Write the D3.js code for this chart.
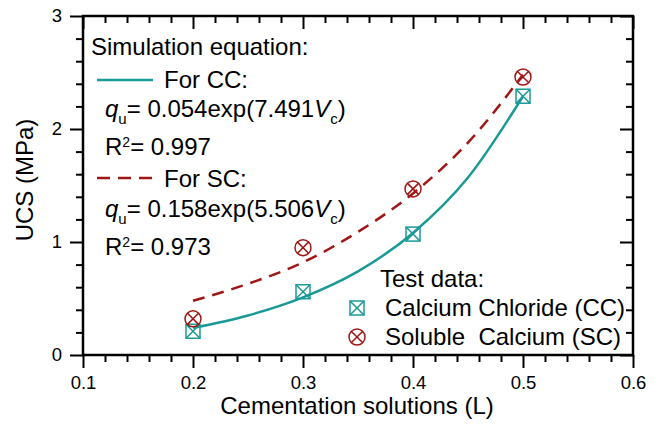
<!DOCTYPE html>
<html>
<head>
<meta charset="utf-8">
<script src="https://cdn.jsdelivr.net/npm/d3@7"></script>
<style>
  body { margin: 0; background: #fff; }
  svg text { font-family: "Liberation Sans", Arial, sans-serif; fill: #000; }
</style>
</head>
<body>
<svg id="chart" width="662" height="425"></svg>
<script>
// test data
const solutions = [0.2, 0.3, 0.4, 0.5];
const ccUCS = [0.21, 0.56, 1.07, 2.29];
const scUCS = [0.32, 0.95, 1.47, 2.46];

// fitted curves
const fitX = [0.2, 0.25, 0.3, 0.35, 0.4, 0.45, 0.5];
const ccFit = [0.24, 0.35, 0.51, 0.74, 1.08, 1.57, 2.29];
const scFit = [0.48, 0.63, 0.82, 1.09, 1.43, 1.88, 2.48];

const xTicks = [0.1, 0.2, 0.3, 0.4, 0.5, 0.6];
const yTicks = [0, 1, 2, 3];

const teal = "#1a9a97";
const red = "#a01616";

const svg = d3.select("svg#chart");
const plot = { left: 83, right: 633, top: 16, bottom: 355 };

const x = d3.scaleLinear().domain([0.1, 0.6]).range([plot.left, plot.right]);
const y = d3.scaleLinear().domain([0, 3]).range([plot.bottom, plot.top]);

const xMinor = d3.range(0.1, 0.6001, 0.02).map(v => +v.toFixed(2)).filter(v => !xTicks.includes(v));
const yMinor = d3.range(0, 3.0001, 0.2).map(v => +v.toFixed(1)).filter(v => !yTicks.includes(v));

function drawAxis(axis, transform, showLabels) {
    const g = svg.append("g").attr("transform", transform).call(axis);
    g.select(".domain").remove();
    g.selectAll("line").attr("stroke", "#000").attr("stroke-width", 2);
    g.selectAll("text").style("font-size", "18.5px")
     .style("font-family", '"Liberation Sans", Arial, sans-serif').attr("fill", "#000");
    if (!showLabels) g.selectAll("text").remove();
    return g;
}

// bottom: outward ticks with labels
drawAxis(d3.axisBottom(x).tickValues(xTicks).tickSize(13).tickPadding(8).tickFormat(d3.format(".1f")),
         `translate(0,${plot.bottom})`, true);
drawAxis(d3.axisBottom(x).tickValues(xMinor).tickSize(7), `translate(0,${plot.bottom})`, false);
// top: inward ticks
drawAxis(d3.axisTop(x).tickValues(xTicks).tickSize(-13), `translate(0,${plot.top})`, false);
drawAxis(d3.axisTop(x).tickValues(xMinor).tickSize(-7), `translate(0,${plot.top})`, false);
// left: outward ticks with labels
drawAxis(d3.axisLeft(y).tickValues(yTicks).tickSize(13).tickPadding(8).tickFormat(d3.format("d")),
         `translate(${plot.left},0)`, true);
drawAxis(d3.axisLeft(y).tickValues(yMinor).tickSize(7), `translate(${plot.left},0)`, false);
// right: inward ticks
drawAxis(d3.axisRight(y).tickValues(yTicks).tickSize(-13), `translate(${plot.right},0)`, false);
drawAxis(d3.axisRight(y).tickValues(yMinor).tickSize(-7), `translate(${plot.right},0)`, false);

svg.append("rect")
   .attr("x", plot.left).attr("y", plot.top)
   .attr("width", plot.right - plot.left).attr("height", plot.bottom - plot.top)
   .attr("fill", "none").attr("stroke", "#000").attr("stroke-width", 2.5);

const fs = "24px";

// axis titles
svg.append("text")
   .attr("x", 357).attr("y", 414)
   .attr("text-anchor", "middle").style("font-size", fs)
   .text("Cementation solutions (L)");
svg.append("text")
   .attr("transform", "translate(33,180) rotate(-90)")
   .attr("text-anchor", "middle").style("font-size", fs)
   .text("UCS (MPa)");

// fitted curves
const line = d3.line().x(d => x(d[0])).y(d => y(d[1])).curve(d3.curveMonotoneX);
svg.append("path")
   .attr("d", line(d3.zip(fitX, ccFit)))
   .attr("fill", "none").attr("stroke", teal).attr("stroke-width", 2.5);
svg.append("path")
   .attr("d", line(d3.zip(fitX, scFit)))
   .attr("fill", "none").attr("stroke", red).attr("stroke-width", 2.5)
   .attr("stroke-dasharray", "12,8");

// markers
function squareX(g, color) {
    const h = 7;
    g.append("rect").attr("x", -h).attr("y", -h).attr("width", 2 * h).attr("height", 2 * h)
     .attr("fill", "none").attr("stroke", color).attr("stroke-width", 1.5);
    g.append("path").attr("d", `M${-h},${-h}L${h},${h}M${h},${-h}L${-h},${h}`)
     .attr("stroke", color).attr("stroke-width", 1.5);
}
function circleX(g, color) {
    const r = 8, d = r * 0.72;
    g.append("circle").attr("r", r)
     .attr("fill", "none").attr("stroke", color).attr("stroke-width", 1.5);
    g.append("path").attr("d", `M${-d},${-d}L${d},${d}M${d},${-d}L${-d},${d}`)
     .attr("stroke", color).attr("stroke-width", 1.5);
}

svg.selectAll(".cc").data(d3.zip(solutions, ccUCS)).enter().append("g")
   .attr("class", "cc").attr("transform", d => `translate(${x(d[0])},${y(d[1])})`)
   .each(function () { squareX(d3.select(this), teal); });
svg.selectAll(".sc").data(d3.zip(solutions, scUCS)).enter().append("g")
   .attr("class", "sc").attr("transform", d => `translate(${x(d[0])},${y(d[1])})`)
   .each(function () { circleX(d3.select(this), red); });

// equation legend
svg.append("text").attr("x", 91).attr("y", 55).style("font-size", fs).text("Simulation equation:");

svg.append("line").attr("x1", 97).attr("x2", 153).attr("y1", 80).attr("y2", 80)
   .attr("stroke", teal).attr("stroke-width", 2.5);
svg.append("text").attr("x", 164).attr("y", 88).style("font-size", fs).text("For CC:");

function equation(yPos, coef) {
    const t = svg.append("text").attr("x", 105).attr("y", yPos).style("font-size", fs);
    t.append("tspan").style("font-style", "italic").text("q");
    t.append("tspan").attr("dy", 7).style("font-size", "15px").text("u");
    t.append("tspan").attr("dy", -7).text(`= ${coef[0]}exp(${coef[1]}`);
    t.append("tspan").style("font-style", "italic").text("V");
    t.append("tspan").attr("dy", 7).style("font-size", "15px").text("c");
    t.append("tspan").attr("dy", -7).text(")");
}
function rSquared(yPos, value) {
    const t = svg.append("text").attr("x", 105).attr("y", yPos).style("font-size", fs);
    t.append("tspan").text("R");
    t.append("tspan").attr("dy", -8).style("font-size", "14px").text("2");
    t.append("tspan").attr("dy", 8).text(`= ${value}`);
}

equation(117, ["0.054", "7.491"]);
rSquared(155, "0.997");

svg.append("line").attr("x1", 97).attr("x2", 153).attr("y1", 178).attr("y2", 178)
   .attr("stroke", red).attr("stroke-width", 2.5).attr("stroke-dasharray", "13,8");
svg.append("text").attr("x", 164).attr("y", 187).style("font-size", fs).text("For SC:");

equation(217, ["0.158", "5.506"]);
rSquared(255, "0.973");

// test data legend
svg.append("text").attr("x", 380).attr("y", 287).style("font-size", fs).text("Test data:");
squareX(svg.append("g").attr("transform", "translate(357,308)"), teal);
svg.append("text").attr("x", 385).attr("y", 316).style("font-size", fs).text("Calcium Chloride (CC)");
circleX(svg.append("g").attr("transform", "translate(357,337)"), red);
svg.append("text").attr("x", 385).attr("y", 345).style("font-size", fs)
   .style("white-space", "pre").text("Soluble  Calcium (SC)");
</script>
</body>
</html>
